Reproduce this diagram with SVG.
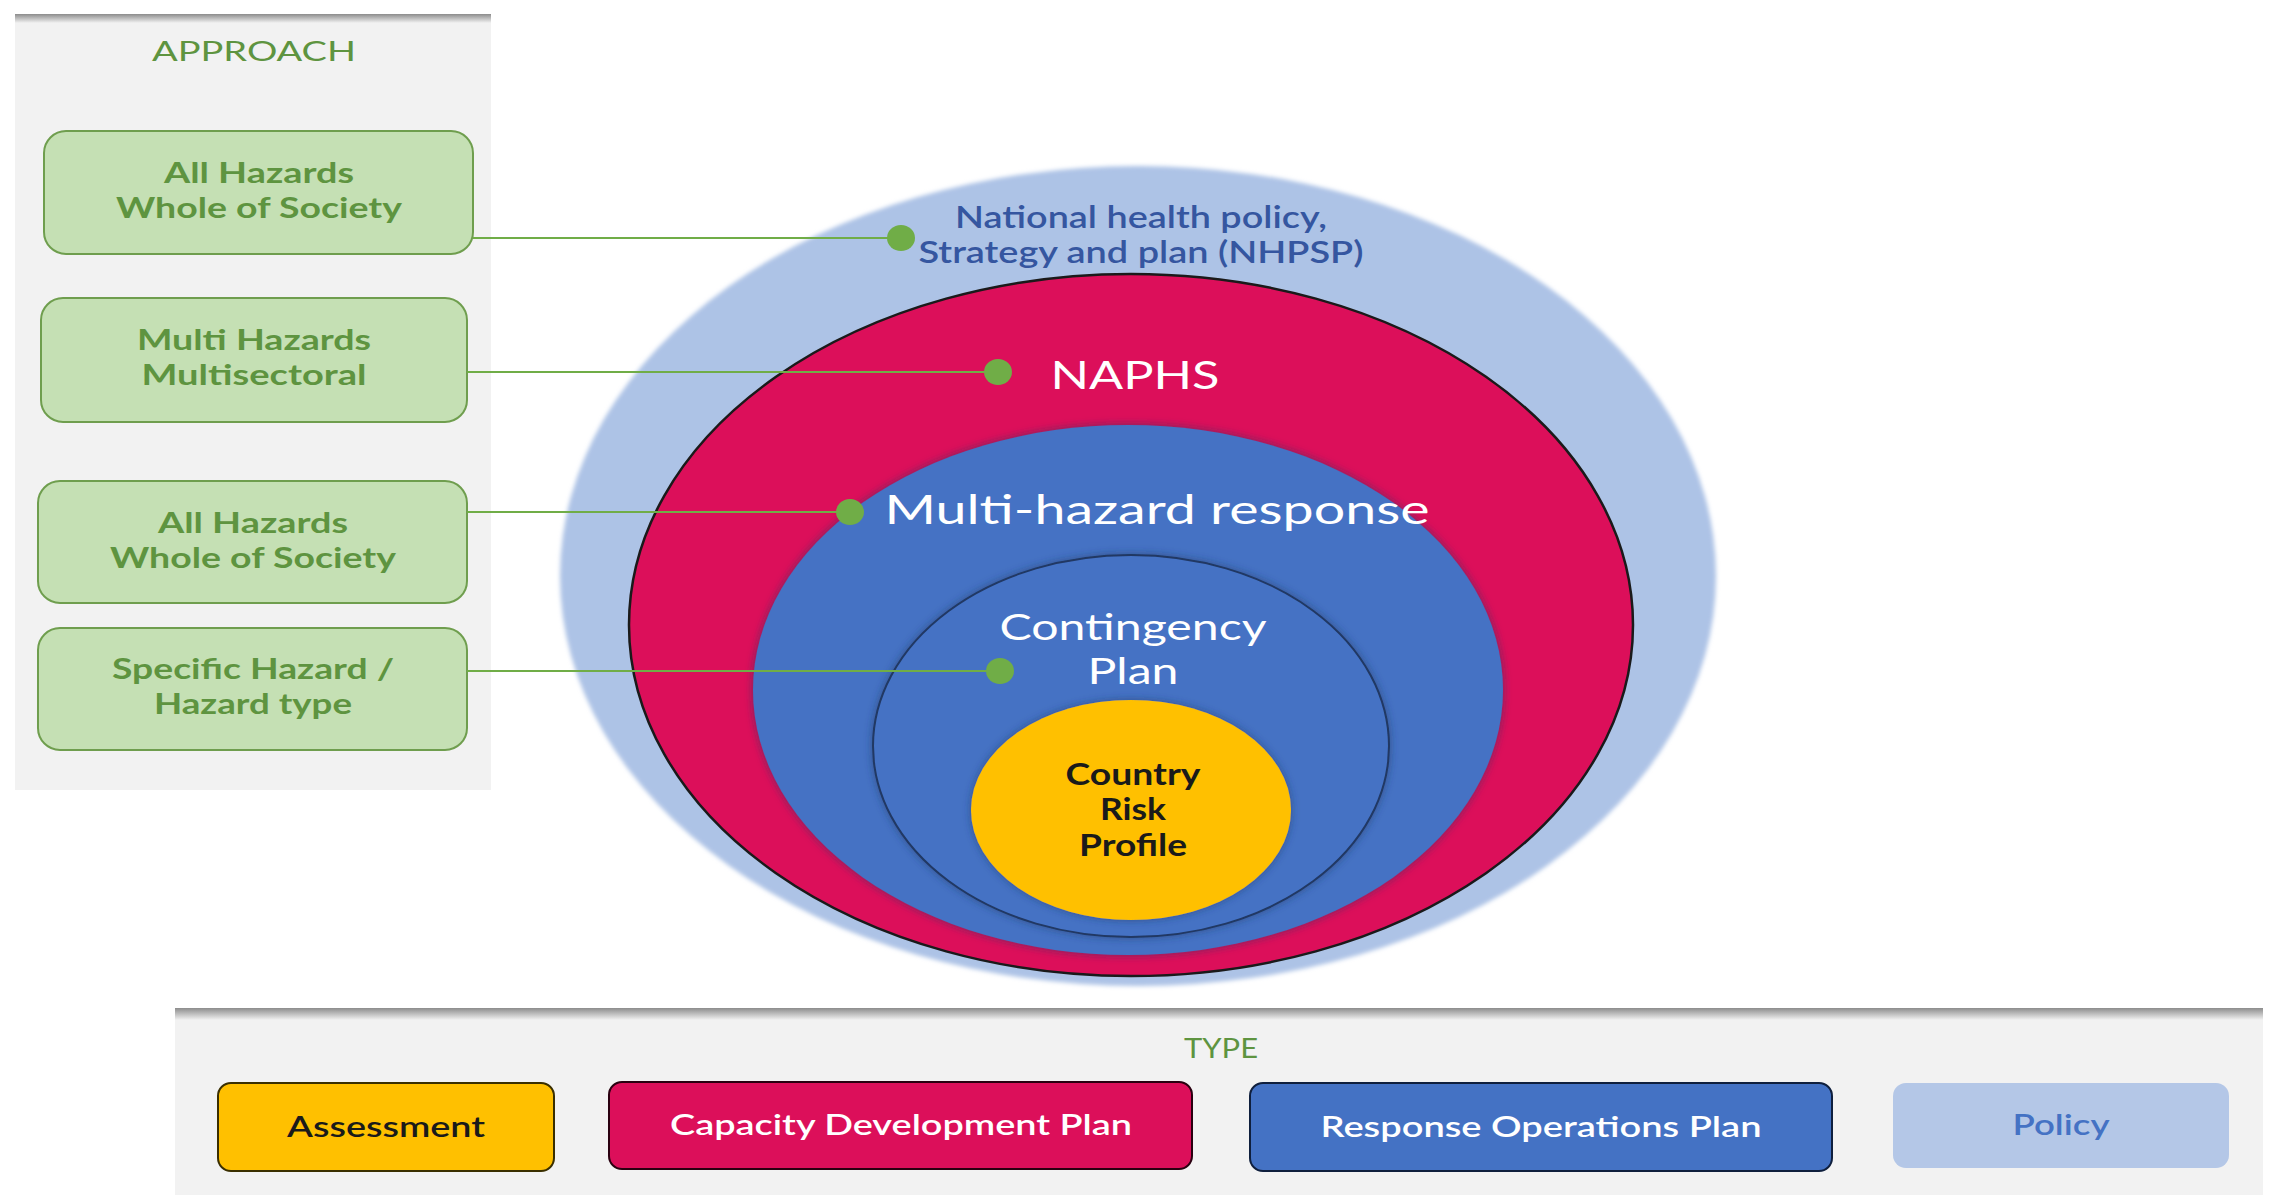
<svg xmlns="http://www.w3.org/2000/svg" width="2280" height="1195" viewBox="0 0 2280 1195">
<defs>
<linearGradient id="topShadow" x1="0" y1="0" x2="0" y2="1">
<stop offset="0" stop-color="#8c8c8c"/>
<stop offset="1" stop-color="#f2f2f2"/>
</linearGradient>
<filter id="soft" x="-5%" y="-5%" width="110%" height="110%">
<feGaussianBlur stdDeviation="2"/>
</filter>
<filter id="glow" x="-10%" y="-10%" width="120%" height="120%">
<feDropShadow dx="0" dy="0" stdDeviation="4" flood-color="#1f3864" flood-opacity="0.6"/>
</filter>
</defs>
<style>
.panel{fill:#f2f2f2}
.abox{fill:#c5e0b4;stroke:#6f9e4e;stroke-width:2}
.atext{font-family:Lato,"Liberation Sans",sans-serif;font-weight:bold;font-size:29px;fill:#5e9440;text-anchor:middle}
.head{font-family:Lato,"Liberation Sans",sans-serif;font-size:27px;fill:#5e9440;text-anchor:middle}
.conn{stroke:#70ad47;stroke-width:2;fill:none}
.dot{fill:#70ad47}
.lbl{font-family:Lato,"Liberation Sans",sans-serif;text-anchor:middle}
.leg{font-family:Lato,"Liberation Sans",sans-serif;font-size:29px;font-weight:600;text-anchor:middle}
</style>
<rect x="0" y="0" width="2280" height="1195" fill="#ffffff"/>

<g id="approach-panel">
<rect class="panel" x="15" y="17" width="476" height="773"/>
<rect x="15" y="14" width="476" height="9" fill="url(#topShadow)"/>
<text class="head" x="254" y="61" textLength="204" lengthAdjust="spacingAndGlyphs">APPROACH</text>
</g>

<g id="approach-1">
<rect class="abox" x="44" y="131" width="429" height="123" rx="22"/>
<text class="atext" x="259" y="183" textLength="190" lengthAdjust="spacingAndGlyphs">All Hazards</text>
<text class="atext" x="259" y="218" textLength="286" lengthAdjust="spacingAndGlyphs">Whole of Society</text>
</g>
<g id="approach-2">
<rect class="abox" x="41" y="298" width="426" height="124" rx="22"/>
<text class="atext" x="254" y="350" textLength="234" lengthAdjust="spacingAndGlyphs">Multi Hazards</text>
<text class="atext" x="254" y="385" textLength="225" lengthAdjust="spacingAndGlyphs">Multisectoral</text>
</g>
<g id="approach-3">
<rect class="abox" x="38" y="481" width="429" height="122" rx="22"/>
<text class="atext" x="253" y="533" textLength="190" lengthAdjust="spacingAndGlyphs">All Hazards</text>
<text class="atext" x="253" y="568" textLength="286" lengthAdjust="spacingAndGlyphs">Whole of Society</text>
</g>
<g id="approach-4">
<rect class="abox" x="38" y="628" width="429" height="122" rx="22"/>
<text class="atext" x="253" y="679" textLength="282" lengthAdjust="spacingAndGlyphs">Specific Hazard /</text>
<text class="atext" x="253" y="714" textLength="198" lengthAdjust="spacingAndGlyphs">Hazard type</text>
</g>

<g id="policy-ring">
<ellipse cx="1138" cy="576" rx="578" ry="410" fill="#adc3e6" filter="url(#soft)"/>
<text class="lbl" x="1141" y="228" font-size="30" font-weight="600" fill="#3556a0" textLength="372" lengthAdjust="spacingAndGlyphs">National health policy,</text>
<text class="lbl" x="1141" y="263" font-size="30" font-weight="600" fill="#3556a0" textLength="445" lengthAdjust="spacingAndGlyphs">Strategy and plan (NHPSP)</text>
</g>
<g id="naphs-ring">
<ellipse cx="1131" cy="625" rx="502" ry="351" fill="#dc0f5a" stroke="#1a1a1a" stroke-width="2.5"/>
<text class="lbl" x="1135" y="389" font-size="39" fill="#ffffff" textLength="169" lengthAdjust="spacingAndGlyphs">NAPHS</text>
</g>
<g id="multi-hazard-ring">
<ellipse cx="1128" cy="690" rx="375" ry="265" fill="#4472c4" filter="url(#glow)"/>
<text class="lbl" x="1157" y="524" font-size="41" fill="#ffffff" textLength="545" lengthAdjust="spacingAndGlyphs">Multi-hazard response</text>
</g>
<g id="contingency-ring">
<ellipse cx="1131" cy="746" rx="258" ry="191" fill="#4472c4" stroke="#203864" stroke-width="2" filter="url(#glow)"/>
<text class="lbl" x="1133" y="640" font-size="36" fill="#ffffff" textLength="267" lengthAdjust="spacingAndGlyphs">Contingency</text>
<text class="lbl" x="1133" y="684" font-size="36" fill="#ffffff" textLength="91" lengthAdjust="spacingAndGlyphs">Plan</text>
</g>
<g id="risk-profile">
<ellipse cx="1131" cy="810" rx="160" ry="110" fill="#ffc000" filter="url(#glow)"/>
<text class="lbl" x="1133" y="785" font-size="30" font-weight="bold" fill="#1a1a1a" textLength="135" lengthAdjust="spacingAndGlyphs">Country</text>
<text class="lbl" x="1133" y="820" font-size="30" font-weight="bold" fill="#1a1a1a" textLength="66" lengthAdjust="spacingAndGlyphs">Risk</text>
<text class="lbl" x="1133" y="856" font-size="30" font-weight="bold" fill="#1a1a1a" textLength="108" lengthAdjust="spacingAndGlyphs">Profile</text>
</g>

<g id="connectors">
<line class="conn" x1="473" y1="238" x2="900" y2="238"/>
<ellipse class="dot" cx="901" cy="238" rx="14" ry="13"/>
<line class="conn" x1="467" y1="372" x2="997" y2="372"/>
<ellipse class="dot" cx="998" cy="372" rx="14" ry="13"/>
<line class="conn" x1="467" y1="512" x2="849" y2="512"/>
<ellipse class="dot" cx="850" cy="512" rx="14" ry="13"/>
<line class="conn" x1="467" y1="671" x2="999" y2="671"/>
<ellipse class="dot" cx="1000" cy="671" rx="14" ry="13"/>
</g>

<g id="type-panel">
<rect class="panel" x="175" y="1013" width="2088" height="182"/>
<rect x="175" y="1008" width="2088" height="12" fill="url(#topShadow)"/>
<text class="head" x="1221" y="1058" textLength="74" lengthAdjust="spacingAndGlyphs">TYPE</text>
</g>
<g id="legend-assessment">
<rect x="218" y="1083" width="336" height="88" rx="13" fill="#ffc000" stroke="#3a2f00" stroke-width="2"/>
<text class="leg" x="386" y="1137" fill="#1a1a1a" textLength="198" lengthAdjust="spacingAndGlyphs">Assessment</text>
</g>
<g id="legend-capacity">
<rect x="609" y="1082" width="583" height="87" rx="13" fill="#dc0f5a" stroke="#2a0010" stroke-width="2"/>
<text class="leg" x="901" y="1135" fill="#ffffff" textLength="462" lengthAdjust="spacingAndGlyphs">Capacity Development Plan</text>
</g>
<g id="legend-response">
<rect x="1250" y="1083" width="582" height="88" rx="13" fill="#4472c4" stroke="#0f1f3d" stroke-width="2"/>
<text class="leg" x="1541" y="1137" fill="#ffffff" textLength="441" lengthAdjust="spacingAndGlyphs">Response Operations Plan</text>
</g>
<g id="legend-policy">
<rect x="1893" y="1083" width="336" height="85" rx="13" fill="#b4c7e7"/>
<text class="leg" x="2061" y="1135" fill="#4472c4" textLength="97" lengthAdjust="spacingAndGlyphs">Policy</text>
</g>
</svg>
